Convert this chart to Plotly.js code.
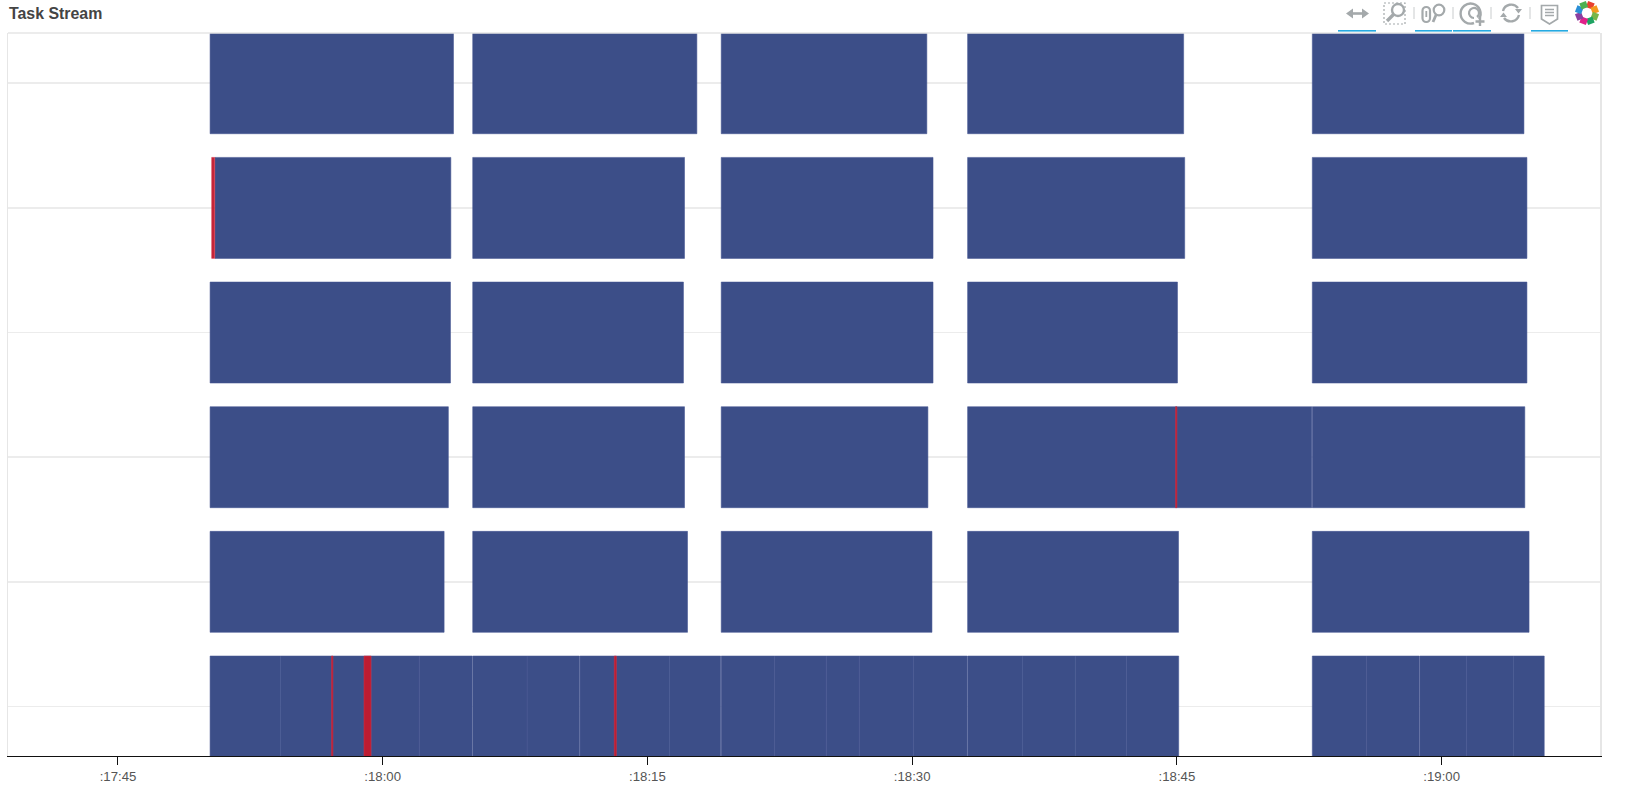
<!DOCTYPE html>
<html>
<head>
<meta charset="utf-8">
<script src="https://cdn.plot.ly/plotly-3.0.1.min.js"></script>
<style>
html,body{margin:0;padding:0;background:#fff;overflow:hidden}
#chart{position:absolute;left:0;top:0;width:1631px;height:801px}
#tools{position:absolute;left:1330px;top:0;width:301px;height:33px;pointer-events:none}
</style>
</head>
<body>
<div id="chart"></div>
<svg id="tools" viewBox="1330 0 301 33" xmlns="http://www.w3.org/2000/svg">
  <g fill="none" stroke="#a4a9ab" stroke-width="2.6">
    <path d="M1349 13.5H1366"/>
    <path d="M1353 8.500l-7 5 7 5zM1362 8.500l7 5-7 5z" fill="#a4a9ab" stroke="none"/>
    <rect x="1384" y="3" width="21" height="21" stroke-dasharray="2 2" stroke-width="1.2"/>
    <path d="M1394 14l-7 7" stroke-width="3.4"/>
    <circle cx="1398" cy="10" r="6" stroke-width="2.4" fill="#fff"/>
    <rect x="1422.500" y="7" width="7.500" height="15" rx="3.700" stroke-width="2.200"/>
    <path d="M1426.300 11v6" stroke-width="1.800"/>
    <path d="M1436 15l-3 7" stroke-width="2.800"/>
    <circle cx="1439" cy="10" r="5.300" stroke-width="2.200"/>
    <path d="M1479 19a10 10 0 1 0-5 4" stroke-width="2.400"/>
    <path d="M1477 17a5 5 0 1 0-3 1" stroke-width="2.200"/>
    <path d="M1475.500 21.500h9M1480 17v9" stroke-width="2.400"/>
    <path d="M1503 11a8.500 8.500 0 0 1 15-3M1519 15a8.500 8.500 0 0 1-15 3" stroke-width="2.400"/>
    <path d="M1515 9h7l-3.500 4.500zM1500 17h7l-3.500-4.500z" fill="#a4a9ab" stroke="none"/>
    <path d="M1541.500 5.500h16v13.500l-8 5-8-5z" stroke-width="1.700"/>
    <path d="M1545 9.500h9M1545 12.500h9M1545 15.500h9" stroke-width="1.300"/>
    <path d="M1414 7v12M1453 7v12M1491 7v12M1530 7v12" stroke="#c9cccd" stroke-width="1"/>
  </g>
  <g fill="#26aae1">
    <rect x="1338" y="30" width="38" height="1.600"/>
    <rect x="1415" y="30" width="37" height="1.600"/>
    <rect x="1453" y="30" width="38" height="1.600"/>
    <rect x="1531" y="30" width="37" height="1.600"/>
  </g>
  <g fill="none" stroke-width="6.500">
    <path d="M1587 4l6.500 2.500" stroke="#e8412f"/>
    <path d="M1593.500 6.500l2.500 6.500" stroke="#f39a1e"/>
    <path d="M1596 13l-2.500 6.500" stroke="#7ab648"/>
    <path d="M1593.500 19.500l-6.500 2.500" stroke="#1ea362"/>
    <path d="M1587 22l-6.500-2.500" stroke="#e0218a"/>
    <path d="M1580.500 19.500l-2.500-6.500" stroke="#8a3fa0"/>
    <path d="M1578 13l2.500-6.500" stroke="#2a8fd6"/>
    <path d="M1580.500 6.500l6.500-2.500" stroke="#4cb050"/>
  </g>
</svg>
<script>
// All times are seconds relative to 18:00 of the clock shown on the axis.
const tickSeconds = [-15, 0, 15, 30, 45, 60];
const tickLabels = [":17:45", ":18:00", ":18:15", ":18:30", ":18:45", ":19:00"];

const row0Start = [-9.78,-5.80,-2.86,-0.66,2.07,5.10,8.18,11.18,16.24,19.18,22.19,25.13,27.00,30.06,33.14,36.24,39.24,42.15,52.67,55.75,58.77,61.42,64.06];
const row0End   = [-5.80,-2.86,-0.66,2.07,5.07,8.18,11.15,16.24,19.15,22.19,25.13,27.00,30.06,33.11,36.24,39.24,42.15,45.10,55.75,58.74,61.42,64.06,65.81];

const row1Start = [-9.78,5.10,19.18,33.14,52.67];
const row1End   = [3.48,17.27,31.12,45.09,64.95];
const row2Start = [-9.78,5.10,19.18,33.14,44.97,52.67];
const row2End   = [3.72,17.10,30.89,44.97,52.64,64.71];
const row3Start = [-9.78,5.10,19.18,33.14,52.67];
const row3End   = [3.84,17.04,31.18,45.03,64.83];
const row4Start = [-9.50,5.10,19.18,33.14,52.67];
const row4End   = [3.86,17.10,31.18,45.44,64.83];
const row5Start = [-9.78,5.10,19.18,33.14,52.67];
const row5End   = [4.01,17.80,30.83,45.38,64.66];

const errorRow   = [4,2,0,0,0];
const errorStart = [-9.69,44.92,-2.90,-1.06,13.12];
const errorEnd   = [-9.52,45.00,-2.82,-0.66,13.24];

const allStarts = [row0Start,row1Start,row2Start,row3Start,row4Start,row5Start];
const allEnds = [row0End,row1End,row2End,row3End,row4End,row5End];

const taskY = [], taskBase = [], taskLen = [];
allStarts.forEach((s, r) => s.forEach((v, i) => {
  taskY.push(r); taskBase.push(v); taskLen.push(allEnds[r][i] - v);
}));

const tasks = {
  type:'bar', orientation:'h', y:taskY, x:taskLen, base:taskBase, width:0.81,
  marker:{color:'#3c4e88', line:{color:'rgba(70,86,146,0.55)', width:1}},
  hoverinfo:'skip', showlegend:false
};
const errors = {
  type:'bar', orientation:'h', y:errorRow, x:errorEnd.map((e,i)=>e-errorStart[i]), base:errorStart, width:0.81,
  marker:{color:'rgba(195,25,45,0.95)', line:{color:'rgba(215,50,70,0.5)', width:1}},
  hoverinfo:'skip', showlegend:false
};

const layout = {
  width:1631, height:801,
  margin:{l:8, r:31, t:33, b:45, pad:0},
  paper_bgcolor:'#fff', plot_bgcolor:'#fff',
  barmode:'overlay', bargap:0,
  title:{text:'Task Stream', x:9/1631, xref:'container', xanchor:'left', y:1-13.5/801, yref:'container', yanchor:'middle',
         font:{family:'Liberation Sans, Arial, sans-serif', size:15.9, color:'#444', weight:700}},
  xaxis:{range:[-21.23, 68.97], type:'linear', tickmode:'array', tickvals:tickSeconds, ticktext:tickLabels,
         showgrid:false, zeroline:false, showline:true, linecolor:'#111', linewidth:1,
         ticks:'outside', ticklen:8, tickwidth:1, tickcolor:'#111',
         tickfont:{family:'Liberation Sans, Arial, sans-serif', size:13.2, color:'#555'}, automargin:false},
  yaxis:{range:[-0.397, 5.403], type:'linear', tickmode:'array', tickvals:[0,1,2,3,4,5], showticklabels:false,
         showgrid:true, gridcolor:'#ececec', gridwidth:1.5, zeroline:false, showline:true, mirror:true,
         linecolor:'#e6e6e6', linewidth:1.5, ticks:'', automargin:false},
  shapes:[{type:'line', xref:'paper', yref:'paper', x0:0, x1:1, y0:1, y1:1, line:{color:'#e6e6e6', width:1.5}, layer:'above'}]
};
Plotly.newPlot('chart',[tasks,errors],layout,{displayModeBar:false,staticPlot:true});
</script>
</body>
</html>
